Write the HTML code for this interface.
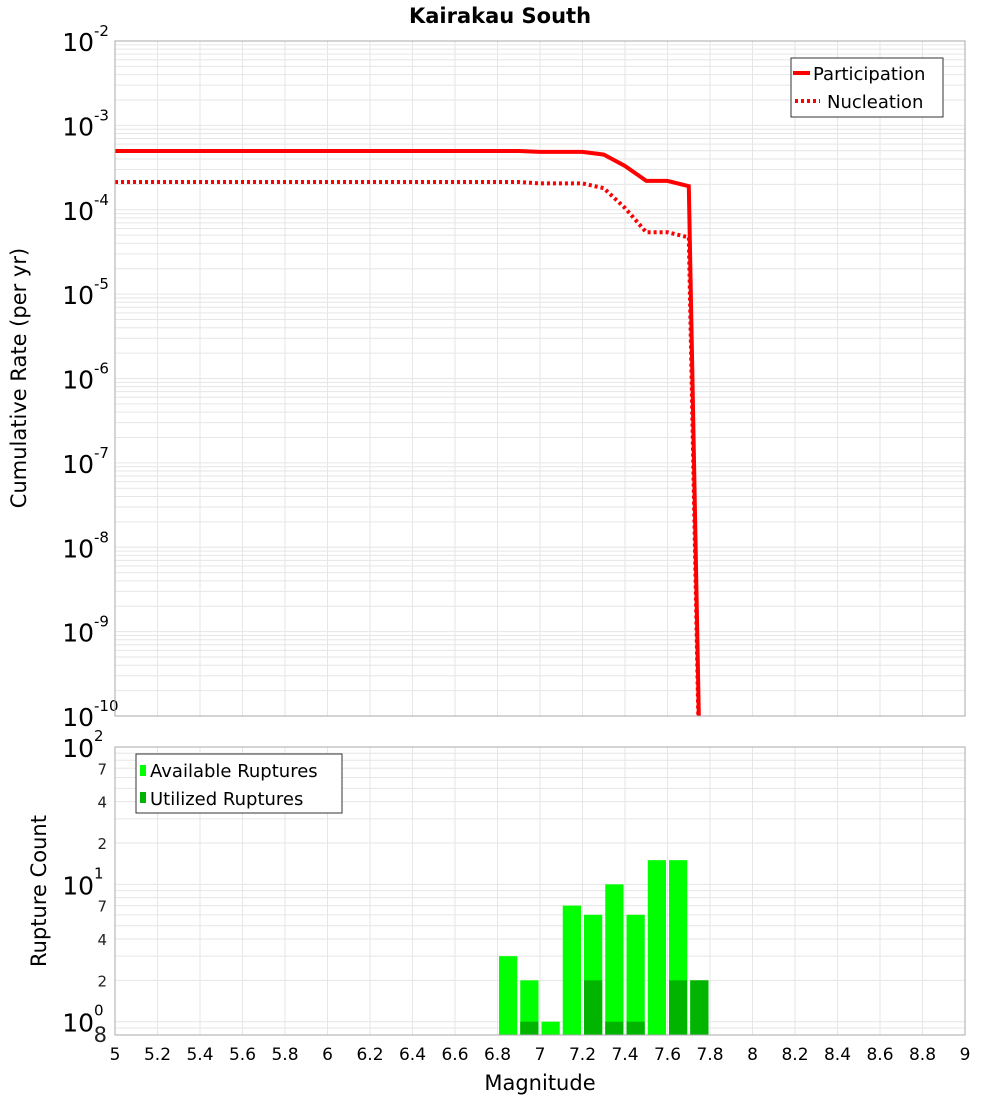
<!DOCTYPE html>
<html><head><meta charset="utf-8"><style>
body{margin:0;background:#fff;}
svg text{font-family:"DejaVu Sans","Liberation Sans",sans-serif;}
</style></head><body>
<svg id="c" width="1000" height="1100" xmlns="http://www.w3.org/2000/svg">
<text x="500" y="23" text-anchor="middle" font-size="21" font-weight="bold">Kairakau South</text>
<g id="topG"></g><g id="botG"></g>
<text transform="translate(26,378) rotate(-90)" text-anchor="middle" font-size="21">Cumulative Rate (per yr)</text>
<text transform="translate(46,891) rotate(-90)" text-anchor="middle" font-size="21">Rupture Count</text>
<text x="540" y="1090" text-anchor="middle" font-size="21">Magnitude</text>
</svg>
<script>
const mags = [5.0,5.1,5.2,5.3,5.4,5.5,5.6,5.7,5.8,5.9,6.0,6.1,6.2,6.3,6.4,6.5,6.6,6.7,6.8,6.9,7.0,7.1,7.2,7.3,7.4,7.5,7.6,7.7,7.8];
const participation = [4.97e-4,4.97e-4,4.97e-4,4.97e-4,4.97e-4,4.97e-4,4.97e-4,4.97e-4,4.97e-4,4.97e-4,4.97e-4,4.97e-4,4.97e-4,4.97e-4,4.97e-4,4.97e-4,4.97e-4,4.97e-4,4.97e-4,4.97e-4,4.85e-4,4.85e-4,4.85e-4,4.5e-4,3.3e-4,2.2e-4,2.2e-4,1.9e-4,1e-17];
const nucleation = [2.13e-4,2.13e-4,2.13e-4,2.13e-4,2.13e-4,2.13e-4,2.13e-4,2.13e-4,2.13e-4,2.13e-4,2.13e-4,2.13e-4,2.13e-4,2.13e-4,2.13e-4,2.13e-4,2.13e-4,2.13e-4,2.13e-4,2.13e-4,2.05e-4,2.05e-4,2.05e-4,1.8e-4,1.05e-4,5.4e-5,5.4e-5,4.7e-5,1e-17];
const barMags = [6.8,6.9,7.0,7.1,7.2,7.3,7.4,7.5,7.6,7.7];
const available = [3,2,1,7,6,10,6,15,15,2];
const utilized = [0,1,0,0,2,1,1,0,2,2];
const xTicks = ["5","5.2","5.4","5.6","5.8","6","6.2","6.4","6.6","6.8","7","7.2","7.4","7.6","7.8","8","8.2","8.4","8.6","8.8","9"];

const NS="http://www.w3.org/2000/svg";
function mk(parent,tag,attrs){const e=document.createElementNS(NS,tag);for(const k in attrs)e.setAttribute(k,attrs[k]);parent.appendChild(e);return e;}
const X0=115,X1=965;
const xs=m=>X0+(m-5)/4*(X1-X0);
const T0=41,T1=716;
const yt=v=>T0+(-2-Math.log10(v))/8*(T1-T0);
const B0=747,B1=1035;
const bmin=Math.log10(0.8),bmax=2;
const yb=v=>B0+(bmax-Math.log10(v))/(bmax-bmin)*(B1-B0);

const topG=document.getElementById('topG'), botG=document.getElementById('botG');
for(let i=0;i<=20;i++){const x=xs(5+i*0.2);
 let l=mk(topG,'line',{x1:x,x2:x,y1:T0,y2:T1,stroke:'#e6e6e6','stroke-width':1});
 
 
 let l2=mk(botG,'line',{x1:x,x2:x,y1:B0,y2:B1,stroke:'#e6e6e6','stroke-width':1});
 
 
}
for(let d=-10;d<-2;d++)for(let k=1;k<10;k++){const y=yt(k*Math.pow(10,d));
 let l=mk(topG,'line',{x1:X0,x2:X1,y1:y,y2:y,stroke:'#e6e6e6','stroke-width':1});
 
 
}
for(let d=-1;d<2;d++)for(let k=1;k<10;k++){const v=k*Math.pow(10,d);if(v<0.8)continue;const y=yb(v);
 let l=mk(botG,'line',{x1:X0,x2:X1,y1:y,y2:y,stroke:'#e6e6e6','stroke-width':1});
 
 
}
for(let d=-2;d>=-10;d--){const y=yt(Math.pow(10,d));
 const t=mk(topG,'text',{x:94,y:y+10,'text-anchor':'end','font-size':25});t.textContent='10';
 
 
 const s=mk(topG,'text',{x:94,y:y-5,'font-size':15});s.textContent=String(d);
 
 
}
const defs=mk(document.getElementById('c'),'defs',{});
const cp=mk(defs,'clipPath',{id:'clipT'});mk(cp,'rect',{x:X0,y:T0,width:X1-X0,height:T1-T0});
function path(vals,dash){let d='';mags.forEach((m,i)=>{d+=(i?'L':'M')+xs(m).toFixed(1)+','+yt(vals[i]).toFixed(1);});
 const p=mk(topG,'path',{d:d,fill:'none',stroke:'#ff0000','stroke-width':4,'clip-path':'url(#clipT)'});if(dash)p.setAttribute('stroke-dasharray','3,3');return p;}
const pp=path(participation,false);


const pn=path(nucleation,true);


const fr=mk(topG,'rect',{x:X0,y:T0,width:X1-X0,height:T1-T0,fill:'none',stroke:'#aaa','stroke-width':1});


const lg=mk(topG,'g',{});


mk(lg,'rect',{x:791,y:58,width:152,height:59,fill:'#fff',stroke:'#333','stroke-width':1});
mk(lg,'line',{x1:793,x2:810,y1:73,y2:73,stroke:'#f00','stroke-width':4});
mk(lg,'line',{x1:795,x2:820,y1:101,y2:101,stroke:'#f00','stroke-width':4,'stroke-dasharray':'3,3'});
let t1=mk(lg,'text',{x:813,y:80,'font-size':18});t1.textContent='Participation';
let t2=mk(lg,'text',{x:827,y:108,'font-size':18});t2.textContent='Nucleation';

barMags.forEach((m,i)=>{const x=xs(m)+1.5,w=xs(m+0.1)-xs(m)-3;
 if(available[i]>0){const y=yb(available[i]);
  const r=mk(botG,'rect',{x:x,y:y,width:w,height:B1-y,fill:'#00ff00'});
  
  }
 if(utilized[i]>0){const y=yb(utilized[i]);
  const r=mk(botG,'rect',{x:x,y:y,width:w,height:B1-y,fill:'#00b400'});
  
  }
});
const fb=mk(botG,'rect',{x:X0,y:B0,width:X1-X0,height:B1-B0,fill:'none',stroke:'#aaa','stroke-width':1});


[[100,'2'],[10,'1'],[1,'0']].forEach(([v,e])=>{const y=yb(v);
 const t=mk(botG,'text',{x:94,y:y+10,'text-anchor':'end','font-size':25});t.textContent='10';
 
 
 const s=mk(botG,'text',{x:94,y:y-6,'font-size':15});s.textContent=e;
 
 
});
[[70,'7'],[40,'4'],[20,'2'],[7,'7'],[4,'4'],[2,'2'],[0.8,'8']].forEach(([v,l])=>{const y=yb(v);
 const t=mk(botG,'text',{x:107,y:y+6,'text-anchor':'end','font-size':v===0.8?21:15,fill:'#222'});t.textContent=l;
 if(v===0.8){t.setAttribute('y',y+7);}
 
 
});
xTicks.forEach((l,i)=>{const x=xs(parseFloat(l));
 const t=mk(botG,'text',{x:x,y:1060,'text-anchor':'middle','font-size':17});t.textContent=l;
 
 
});
const lb=mk(botG,'g',{});


mk(lb,'rect',{x:136,y:754,width:206,height:59,fill:'#fff',stroke:'#333','stroke-width':1});
mk(lb,'rect',{x:140,y:765,width:6,height:11,fill:'#00ff00'});
mk(lb,'rect',{x:140,y:792,width:6,height:11,fill:'#00b400'});
let t3=mk(lb,'text',{x:150,y:777,'font-size':18});t3.textContent='Available Ruptures';
let t4=mk(lb,'text',{x:150,y:805,'font-size':18});t4.textContent='Utilized Ruptures';
</script>
</body></html>
